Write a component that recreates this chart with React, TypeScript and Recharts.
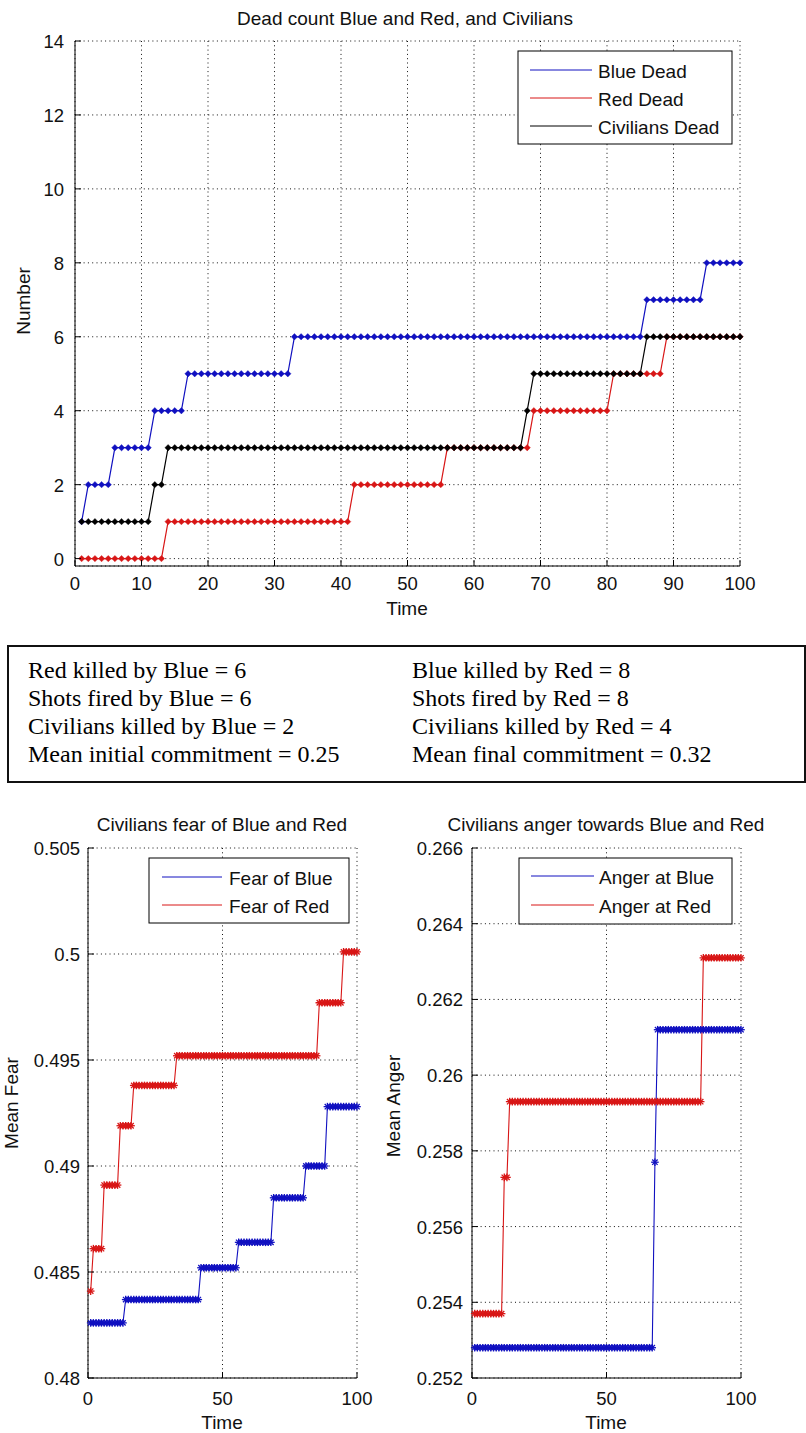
import React from 'react';
import { LineChart, Line, XAxis, YAxis, CartesianGrid } from 'recharts';

// ---------- data ----------
const time = [
  1, 2, 3, 4, 5, 6, 7, 8, 9, 10,
  11, 12, 13, 14, 15, 16, 17, 18, 19, 20,
  21, 22, 23, 24, 25, 26, 27, 28, 29, 30,
  31, 32, 33, 34, 35, 36, 37, 38, 39, 40,
  41, 42, 43, 44, 45, 46, 47, 48, 49, 50,
  51, 52, 53, 54, 55, 56, 57, 58, 59, 60,
  61, 62, 63, 64, 65, 66, 67, 68, 69, 70,
  71, 72, 73, 74, 75, 76, 77, 78, 79, 80,
  81, 82, 83, 84, 85, 86, 87, 88, 89, 90,
  91, 92, 93, 94, 95, 96, 97, 98, 99, 100,
];

const blueDead = [
  1, 2, 2, 2, 2, 3, 3, 3, 3, 3,
  3, 4, 4, 4, 4, 4, 5, 5, 5, 5,
  5, 5, 5, 5, 5, 5, 5, 5, 5, 5,
  5, 5, 6, 6, 6, 6, 6, 6, 6, 6,
  6, 6, 6, 6, 6, 6, 6, 6, 6, 6,
  6, 6, 6, 6, 6, 6, 6, 6, 6, 6,
  6, 6, 6, 6, 6, 6, 6, 6, 6, 6,
  6, 6, 6, 6, 6, 6, 6, 6, 6, 6,
  6, 6, 6, 6, 6, 7, 7, 7, 7, 7,
  7, 7, 7, 7, 8, 8, 8, 8, 8, 8,
];

const redDead = [
  0, 0, 0, 0, 0, 0, 0, 0, 0, 0,
  0, 0, 0, 1, 1, 1, 1, 1, 1, 1,
  1, 1, 1, 1, 1, 1, 1, 1, 1, 1,
  1, 1, 1, 1, 1, 1, 1, 1, 1, 1,
  1, 2, 2, 2, 2, 2, 2, 2, 2, 2,
  2, 2, 2, 2, 2, 3, 3, 3, 3, 3,
  3, 3, 3, 3, 3, 3, 3, 3, 4, 4,
  4, 4, 4, 4, 4, 4, 4, 4, 4, 4,
  5, 5, 5, 5, 5, 5, 5, 5, 6, 6,
  6, 6, 6, 6, 6, 6, 6, 6, 6, 6,
];

const civiliansDead = [
  1, 1, 1, 1, 1, 1, 1, 1, 1, 1,
  1, 2, 2, 3, 3, 3, 3, 3, 3, 3,
  3, 3, 3, 3, 3, 3, 3, 3, 3, 3,
  3, 3, 3, 3, 3, 3, 3, 3, 3, 3,
  3, 3, 3, 3, 3, 3, 3, 3, 3, 3,
  3, 3, 3, 3, 3, 3, 3, 3, 3, 3,
  3, 3, 3, 3, 3, 3, 3, 4, 5, 5,
  5, 5, 5, 5, 5, 5, 5, 5, 5, 5,
  5, 5, 5, 5, 5, 6, 6, 6, 6, 6,
  6, 6, 6, 6, 6, 6, 6, 6, 6, 6,
];

const fearOfBlue = [
  0.4826, 0.4826, 0.4826, 0.4826, 0.4826, 0.4826, 0.4826, 0.4826, 0.4826, 0.4826,
  0.4826, 0.4826, 0.4826, 0.4837, 0.4837, 0.4837, 0.4837, 0.4837, 0.4837, 0.4837,
  0.4837, 0.4837, 0.4837, 0.4837, 0.4837, 0.4837, 0.4837, 0.4837, 0.4837, 0.4837,
  0.4837, 0.4837, 0.4837, 0.4837, 0.4837, 0.4837, 0.4837, 0.4837, 0.4837, 0.4837,
  0.4837, 0.4852, 0.4852, 0.4852, 0.4852, 0.4852, 0.4852, 0.4852, 0.4852, 0.4852,
  0.4852, 0.4852, 0.4852, 0.4852, 0.4852, 0.4864, 0.4864, 0.4864, 0.4864, 0.4864,
  0.4864, 0.4864, 0.4864, 0.4864, 0.4864, 0.4864, 0.4864, 0.4864, 0.4885, 0.4885,
  0.4885, 0.4885, 0.4885, 0.4885, 0.4885, 0.4885, 0.4885, 0.4885, 0.4885, 0.4885,
  0.49, 0.49, 0.49, 0.49, 0.49, 0.49, 0.49, 0.49, 0.4928, 0.4928,
  0.4928, 0.4928, 0.4928, 0.4928, 0.4928, 0.4928, 0.4928, 0.4928, 0.4928, 0.4928,
];

const fearOfRed = [
  0.4841, 0.4861, 0.4861, 0.4861, 0.4861, 0.4891, 0.4891, 0.4891, 0.4891, 0.4891,
  0.4891, 0.4919, 0.4919, 0.4919, 0.4919, 0.4919, 0.4938, 0.4938, 0.4938, 0.4938,
  0.4938, 0.4938, 0.4938, 0.4938, 0.4938, 0.4938, 0.4938, 0.4938, 0.4938, 0.4938,
  0.4938, 0.4938, 0.4952, 0.4952, 0.4952, 0.4952, 0.4952, 0.4952, 0.4952, 0.4952,
  0.4952, 0.4952, 0.4952, 0.4952, 0.4952, 0.4952, 0.4952, 0.4952, 0.4952, 0.4952,
  0.4952, 0.4952, 0.4952, 0.4952, 0.4952, 0.4952, 0.4952, 0.4952, 0.4952, 0.4952,
  0.4952, 0.4952, 0.4952, 0.4952, 0.4952, 0.4952, 0.4952, 0.4952, 0.4952, 0.4952,
  0.4952, 0.4952, 0.4952, 0.4952, 0.4952, 0.4952, 0.4952, 0.4952, 0.4952, 0.4952,
  0.4952, 0.4952, 0.4952, 0.4952, 0.4952, 0.4977, 0.4977, 0.4977, 0.4977, 0.4977,
  0.4977, 0.4977, 0.4977, 0.4977, 0.5001, 0.5001, 0.5001, 0.5001, 0.5001, 0.5001,
];

const angerAtBlue = [
  0.2528, 0.2528, 0.2528, 0.2528, 0.2528, 0.2528, 0.2528, 0.2528, 0.2528, 0.2528,
  0.2528, 0.2528, 0.2528, 0.2528, 0.2528, 0.2528, 0.2528, 0.2528, 0.2528, 0.2528,
  0.2528, 0.2528, 0.2528, 0.2528, 0.2528, 0.2528, 0.2528, 0.2528, 0.2528, 0.2528,
  0.2528, 0.2528, 0.2528, 0.2528, 0.2528, 0.2528, 0.2528, 0.2528, 0.2528, 0.2528,
  0.2528, 0.2528, 0.2528, 0.2528, 0.2528, 0.2528, 0.2528, 0.2528, 0.2528, 0.2528,
  0.2528, 0.2528, 0.2528, 0.2528, 0.2528, 0.2528, 0.2528, 0.2528, 0.2528, 0.2528,
  0.2528, 0.2528, 0.2528, 0.2528, 0.2528, 0.2528, 0.2528, 0.2577, 0.2612, 0.2612,
  0.2612, 0.2612, 0.2612, 0.2612, 0.2612, 0.2612, 0.2612, 0.2612, 0.2612, 0.2612,
  0.2612, 0.2612, 0.2612, 0.2612, 0.2612, 0.2612, 0.2612, 0.2612, 0.2612, 0.2612,
  0.2612, 0.2612, 0.2612, 0.2612, 0.2612, 0.2612, 0.2612, 0.2612, 0.2612, 0.2612,
];

const angerAtRed = [
  0.2537, 0.2537, 0.2537, 0.2537, 0.2537, 0.2537, 0.2537, 0.2537, 0.2537, 0.2537,
  0.2537, 0.2573, 0.2573, 0.2593, 0.2593, 0.2593, 0.2593, 0.2593, 0.2593, 0.2593,
  0.2593, 0.2593, 0.2593, 0.2593, 0.2593, 0.2593, 0.2593, 0.2593, 0.2593, 0.2593,
  0.2593, 0.2593, 0.2593, 0.2593, 0.2593, 0.2593, 0.2593, 0.2593, 0.2593, 0.2593,
  0.2593, 0.2593, 0.2593, 0.2593, 0.2593, 0.2593, 0.2593, 0.2593, 0.2593, 0.2593,
  0.2593, 0.2593, 0.2593, 0.2593, 0.2593, 0.2593, 0.2593, 0.2593, 0.2593, 0.2593,
  0.2593, 0.2593, 0.2593, 0.2593, 0.2593, 0.2593, 0.2593, 0.2593, 0.2593, 0.2593,
  0.2593, 0.2593, 0.2593, 0.2593, 0.2593, 0.2593, 0.2593, 0.2593, 0.2593, 0.2593,
  0.2593, 0.2593, 0.2593, 0.2593, 0.2593, 0.2631, 0.2631, 0.2631, 0.2631, 0.2631,
  0.2631, 0.2631, 0.2631, 0.2631, 0.2631, 0.2631, 0.2631, 0.2631, 0.2631, 0.2631,
];

const topXTicks = [0, 10, 20, 30, 40, 50, 60, 70, 80, 90, 100];
const topYTicks = [0, 2, 4, 6, 8, 10, 12, 14];
const bottomXTicks = [0, 50, 100];
const fearYTicks = [0.48, 0.485, 0.49, 0.495, 0.5, 0.505];
const angerYTicks = [0.252, 0.254, 0.256, 0.258, 0.26, 0.262, 0.264, 0.266];

const deadLegend = ['Blue Dead', 'Red Dead', 'Civilians Dead'];
const fearLegend = ['Fear of Blue', 'Fear of Red'];
const angerLegend = ['Anger at Blue', 'Anger at Red'];

const statsLeft = [
  'Red killed by Blue = 6',
  'Shots fired by Blue = 6',
  'Civilians killed by Blue = 2',
  'Mean initial commitment = 0.25',
];
const statsRight = [
  'Blue killed by Red = 8',
  'Shots fired by Red = 8',
  'Civilians killed by Red = 4',
  'Mean final commitment = 0.32',
];

// ---------- tables ----------
const deadData = time.map((t, i) => ({ t, blue: blueDead[i], red: redDead[i], civ: civiliansDead[i] }));
const fearData = time.map((t, i) => ({ t, blue: fearOfBlue[i], red: fearOfRed[i] }));
const angerData = time.map((t, i) => ({ t, blue: angerAtBlue[i], red: angerAtRed[i] }));

// ---------- style ----------
const SANS = '"Liberation Sans", Arial, Helvetica, sans-serif';
const SERIF = '"Liberation Serif", "Times New Roman", Times, serif';
const BLUE = '#1010c0';
const RED = '#d81616';
const BLACK = '#000000';
const TICK_FS = 18.5;
const LABEL_FS = 19;

const fmt = (v: number) => String(parseFloat(Number(v).toFixed(4)));

const makeXTick = (baseline: number) => (p: any) => {
  const { x, y, payload, index } = p;
  return (
    <g key={`xt${index}`}>
      <line x1={x} y1={y} x2={x} y2={y - 6} stroke="#000" strokeWidth={1} />
      <text x={x} y={y + baseline} textAnchor="middle" fontSize={TICK_FS} fontFamily={SANS} fill="#111">
        {fmt(payload.value)}
      </text>
    </g>
  );
};

const makeYTick = (gap: number) => (p: any) => {
  const { x, y, payload, index } = p;
  return (
    <g key={`yt${index}`}>
      <line x1={x} y1={y} x2={x + 6} y2={y} stroke="#000" strokeWidth={1} />
      <text x={x - gap} y={y + 7} textAnchor="end" fontSize={TICK_FS} fontFamily={SANS} fill="#111">
        {fmt(payload.value)}
      </text>
    </g>
  );
};

const diamondDot = (color: string) => (p: any) => {
  const { cx, cy, index } = p;
  if (cx == null || cy == null) return <g key={`dd${index}`} />;
  const s = 3.2;
  return (
    <polygon
      key={`dd${index}`}
      points={`${cx},${cy - s} ${cx + s},${cy} ${cx},${cy + s} ${cx - s},${cy}`}
      fill={color}
      stroke={color}
      strokeWidth={0.4}
    />
  );
};

const starDot = (color: string) => (p: any) => {
  const { cx, cy, index } = p;
  if (cx == null || cy == null) return <g key={`sd${index}`} />;
  const s = 3.8;
  const d = 2.7;
  return (
    <g key={`sd${index}`} stroke={color} strokeWidth={1.3}>
      <line x1={cx - s} y1={cy} x2={cx + s} y2={cy} />
      <line x1={cx} y1={cy - s} x2={cx} y2={cy + s} />
      <line x1={cx - d} y1={cy - d} x2={cx + d} y2={cy + d} />
      <line x1={cx - d} y1={cy + d} x2={cx + d} y2={cy - d} />
    </g>
  );
};

const gridProps = { stroke: '#111', strokeDasharray: '1 3.3', strokeWidth: 1 };

function Legend({ x, y, w, h, lineX1, lineX2, textX, rows, names, colors }: any) {
  return (
    <g>
      <rect x={x} y={y} width={w} height={h} fill="#fff" stroke="#000" strokeWidth={1} />
      {names.map((n: string, i: number) => (
        <g key={n}>
          <line x1={lineX1} x2={lineX2} y1={rows[i]} y2={rows[i]} stroke={colors[i]} strokeWidth={1} />
          <text x={textX} y={rows[i] + 7.5} fontSize={LABEL_FS} fontFamily={SANS} fill="#111">
            {n}
          </text>
        </g>
      ))}
    </g>
  );
}

export default function App() {
  return (
    <div style={{ position: 'absolute', left: 0, top: 0, width: 806, height: 1433, background: '#fff', overflow: 'hidden' }}>
      {/* Top chart */}
      <div style={{ position: 'absolute', left: 0, top: 0 }}>
        <LineChart width={806} height={640} data={deadData} margin={{ top: 41, right: 66, bottom: 0, left: 0 }}>
          <CartesianGrid {...gridProps} />
          <XAxis
            type="number"
            dataKey="t"
            domain={[0, 100]}
            ticks={topXTicks}
            interval={0}
            height={74}
            tickSize={0}
            tickMargin={0}
            tickLine={false}
            axisLine={{ stroke: '#000', strokeWidth: 1 }}
            tick={makeXTick(24)}
          />
          <YAxis
            type="number"
            domain={[-0.2, 14]}
            allowDataOverflow
            ticks={topYTicks}
            interval={0}
            width={75}
            tickSize={0}
            tickMargin={0}
            tickLine={false}
            axisLine={{ stroke: '#000', strokeWidth: 1 }}
            tick={makeYTick(11)}
          />
          <Line type="linear" dataKey="blue" stroke={BLUE} strokeWidth={1.2} dot={diamondDot(BLUE)} activeDot={false} isAnimationActive={false} />
          <Line type="linear" dataKey="red" stroke={RED} strokeWidth={1.2} dot={diamondDot(RED)} activeDot={false} isAnimationActive={false} />
          <Line type="linear" dataKey="civ" stroke={BLACK} strokeWidth={1.2} dot={diamondDot(BLACK)} activeDot={false} isAnimationActive={false} />
        </LineChart>
      </div>

      {/* Fear chart */}
      <div style={{ position: 'absolute', left: 0, top: 790 }}>
        <LineChart width={400} height={643} data={fearData} margin={{ top: 58, right: 43, bottom: 0, left: 0 }}>
          <CartesianGrid {...gridProps} />
          <XAxis
            type="number"
            dataKey="t"
            domain={[0, 100]}
            ticks={bottomXTicks}
            interval={0}
            height={55}
            tickSize={0}
            tickMargin={0}
            tickLine={false}
            axisLine={{ stroke: '#000', strokeWidth: 1 }}
            tick={makeXTick(27)}
          />
          <YAxis
            type="number"
            domain={[0.48, 0.505]}
            allowDataOverflow
            ticks={fearYTicks}
            interval={0}
            width={88}
            tickSize={0}
            tickMargin={0}
            tickLine={false}
            axisLine={{ stroke: '#000', strokeWidth: 1 }}
            tick={makeYTick(8)}
          />
          <Line type="linear" dataKey="blue" stroke={BLUE} strokeWidth={1.1} dot={starDot(BLUE)} activeDot={false} isAnimationActive={false} />
          <Line type="linear" dataKey="red" stroke={RED} strokeWidth={1.1} dot={starDot(RED)} activeDot={false} isAnimationActive={false} />
        </LineChart>
      </div>

      {/* Anger chart */}
      <div style={{ position: 'absolute', left: 400, top: 790 }}>
        <LineChart width={406} height={643} data={angerData} margin={{ top: 58, right: 65, bottom: 0, left: 0 }}>
          <CartesianGrid {...gridProps} />
          <XAxis
            type="number"
            dataKey="t"
            domain={[0, 100]}
            ticks={bottomXTicks}
            interval={0}
            height={55}
            tickSize={0}
            tickMargin={0}
            tickLine={false}
            axisLine={{ stroke: '#000', strokeWidth: 1 }}
            tick={makeXTick(27)}
          />
          <YAxis
            type="number"
            domain={[0.252, 0.266]}
            allowDataOverflow
            ticks={angerYTicks}
            interval={0}
            width={72}
            tickSize={0}
            tickMargin={0}
            tickLine={false}
            axisLine={{ stroke: '#000', strokeWidth: 1 }}
            tick={makeYTick(9)}
          />
          <Line type="linear" dataKey="blue" stroke={BLUE} strokeWidth={1.1} dot={starDot(BLUE)} activeDot={false} isAnimationActive={false} />
          <Line type="linear" dataKey="red" stroke={RED} strokeWidth={1.1} dot={starDot(RED)} activeDot={false} isAnimationActive={false} />
        </LineChart>
      </div>

      {/* Overlay: titles, labels, legends, stats box */}
      <svg width={806} height={1433} style={{ position: 'absolute', left: 0, top: 0, pointerEvents: 'none' }}>
        {/* top chart texts */}
        <text x={405} y={25} textAnchor="middle" fontSize={LABEL_FS} fontFamily={SANS} fill="#111">
          Dead count Blue and Red, and Civilians
        </text>
        <text x={407} y={615} textAnchor="middle" fontSize={LABEL_FS} fontFamily={SANS} fill="#111">
          Time
        </text>
        <text transform="translate(30,301) rotate(-90)" textAnchor="middle" fontSize={LABEL_FS} fontFamily={SANS} fill="#111">
          Number
        </text>
        <Legend
          x={518} y={51} w={214} h={93}
          lineX1={530} lineX2={592} textX={598}
          rows={[70, 98, 126]}
          names={deadLegend}
          colors={[BLUE, RED, BLACK]}
        />

        {/* stats box */}
        <rect x={8} y={646} width={797} height={136} fill="none" stroke="#111" strokeWidth={2} />
        {statsLeft.map((s, i) => (
          <text key={`l${i}`} x={28} y={678 + i * 28} fontSize={24} fontFamily={SERIF} fill="#000">
            {s}
          </text>
        ))}
        {statsRight.map((s, i) => (
          <text key={`r${i}`} x={412} y={678 + i * 28} fontSize={24} fontFamily={SERIF} fill="#000">
            {s}
          </text>
        ))}

        {/* fear chart texts */}
        <text x={222} y={831} textAnchor="middle" fontSize={LABEL_FS} fontFamily={SANS} fill="#111">
          Civilians fear of Blue and Red
        </text>
        <text x={222} y={1429} textAnchor="middle" fontSize={LABEL_FS} fontFamily={SANS} fill="#111">
          Time
        </text>
        <text transform="translate(18,1103) rotate(-90)" textAnchor="middle" fontSize={LABEL_FS} fontFamily={SANS} fill="#111">
          Mean Fear
        </text>
        <Legend
          x={149} y={858} w={200} h={65}
          lineX1={162} lineX2={222} textX={229}
          rows={[877, 905]}
          names={fearLegend}
          colors={[BLUE, RED]}
        />

        {/* anger chart texts */}
        <text x={606} y={831} textAnchor="middle" fontSize={LABEL_FS} fontFamily={SANS} fill="#111">
          Civilians anger towards Blue and Red
        </text>
        <text x={606} y={1429} textAnchor="middle" fontSize={LABEL_FS} fontFamily={SANS} fill="#111">
          Time
        </text>
        <text transform="translate(400,1106) rotate(-90)" textAnchor="middle" fontSize={LABEL_FS} fontFamily={SANS} fill="#111">
          Mean Anger
        </text>
        <Legend
          x={519} y={858} w={213} h={66}
          lineX1={531} lineX2={594} textX={599}
          rows={[876, 905]}
          names={angerLegend}
          colors={[BLUE, RED]}
        />
      </svg>
    </div>
  );
}
